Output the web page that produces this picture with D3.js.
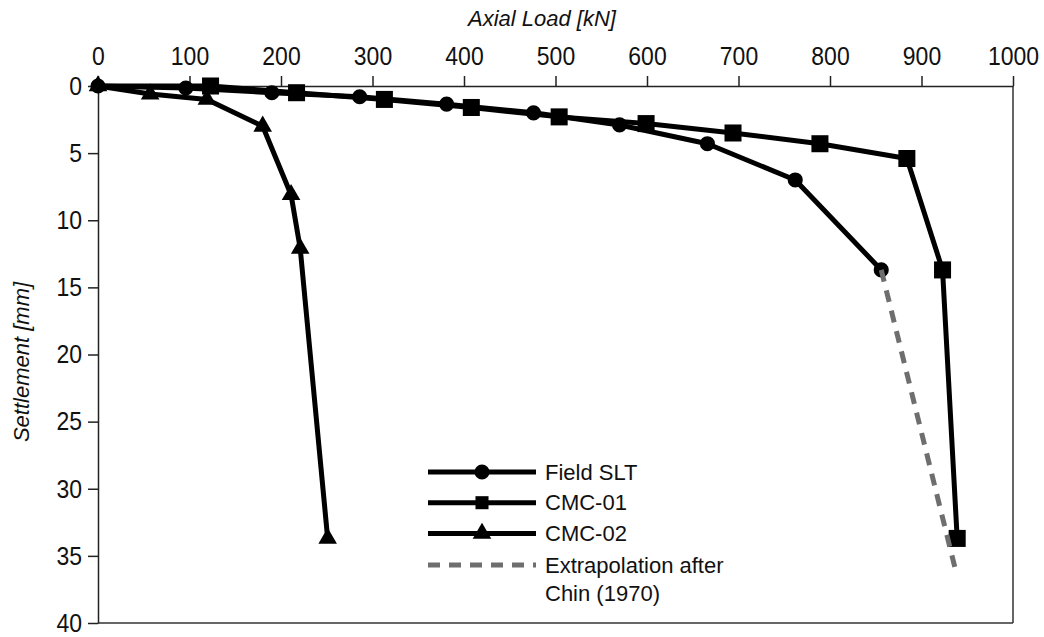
<!DOCTYPE html>
<html>
<head>
<meta charset="utf-8">
<script src="https://cdn.jsdelivr.net/npm/d3@7/dist/d3.min.js"></script>
<style>
  body { margin: 0; background: #fff; }
  text { font-family: "Liberation Sans", Arial, sans-serif; fill: #111; }
  .tall { transform-box: fill-box; transform-origin: center; transform: scaleY(1.12); }
</style>
</head>
<body>
<div id="container"></div>
<script>
// values
const xTicks = [0, 100, 200, 300, 400, 500, 600, 700, 800, 900, 1000];
const yTicks = [0, 5, 10, 15, 20, 25, 30, 35, 40];

const fieldLoad = [0, 96, 190, 286, 381, 476, 570, 666, 762, 856];
const fieldSettle = [0, 0.15, 0.5, 0.8, 1.35, 2.0, 2.9, 4.3, 7.0, 13.7];

const cmc01Load = [0, 123, 217, 313, 408, 504, 599, 694, 789, 884, 923, 939];
const cmc01Settle = [0, 0, 0.5, 1.0, 1.6, 2.3, 2.8, 3.5, 4.3, 5.4, 13.7, 33.7];

const cmc02Load = [0, 57, 119, 180, 211, 221, 251];
const cmc02Settle = [0, 0.6, 1.0, 3.0, 8.1, 12.1, 33.7];

const extrapLoad = [856, 937];
const extrapSettle = [13.7, 36.0];

const legendLabels = ["Field SLT", "CMC-01", "CMC-02", "Extrapolation after", "Chin (1970)"];

const W = 1044, H = 637;
const margin = { top: 86, left: 98, right: 31, bottom: 14 };
const iw = W - margin.left - margin.right;
const ih = H - margin.top - margin.bottom;

const svg = d3.select("#container").append("svg")
  .attr("width", W)
  .attr("height", H);

const g = svg.append("g")
  .attr("transform", `translate(${margin.left},${margin.top})`);

const x = d3.scaleLinear().domain([0, 1000]).range([0, iw]);
const y = d3.scaleLinear().domain([0, 40]).range([0, ih]);

// frame: right and bottom
g.append("line")
  .attr("x1", iw).attr("x2", iw).attr("y1", 0).attr("y2", ih)
  .attr("stroke", "#333").attr("stroke-width", 1.5);
g.append("line")
  .attr("x1", 0).attr("x2", iw).attr("y1", ih).attr("y2", ih)
  .attr("stroke", "#333").attr("stroke-width", 1.5);

const xAxis = g.append("g")
  .call(d3.axisTop(x).tickValues(xTicks).tickFormat(d3.format("d"))
    .tickSize(10).tickSizeOuter(0).tickPadding(12));
const yAxis = g.append("g")
  .call(d3.axisLeft(y).tickValues(yTicks).tickFormat(d3.format("d"))
    .tickSize(10).tickSizeOuter(0).tickPadding(6));

[xAxis, yAxis].forEach(a => {
  a.select(".domain").attr("stroke", "#222").attr("stroke-width", 1.5);
  a.selectAll(".tick line").attr("stroke", "#222").attr("stroke-width", 1.5);
  a.selectAll(".tick text")
    .attr("class", "tall")
    .attr("font-size", 23)
    .attr("fill", "#111")
    .style("font-family", "'Liberation Sans', Arial, sans-serif");
});

// axis titles
svg.append("text")
  .attr("x", 542)
  .attr("y", 26)
  .attr("text-anchor", "middle")
  .attr("font-size", 22)
  .attr("font-style", "italic")
  .text("Axial Load [kN]");

svg.append("text")
  .attr("transform", "translate(29,362) rotate(-90)")
  .attr("text-anchor", "middle")
  .attr("font-size", 22)
  .attr("font-style", "italic")
  .text("Settlement [mm]");

const line = d3.line().x(d => x(d[0])).y(d => y(d[1]));

const series = [
  { load: cmc02Load, settle: cmc02Settle, symbol: d3.symbolTriangle, size: 150, markFrom: 0 },
  { load: cmc01Load, settle: cmc01Settle, symbol: d3.symbolSquare, size: 290, markFrom: 1 },
  { load: fieldLoad, settle: fieldSettle, symbol: d3.symbolCircle, size: 180, markFrom: 0 }
];

series.forEach(s => {
  const pts = s.load.map((v, i) => [v, s.settle[i]]);
  g.append("path")
    .datum(pts)
    .attr("fill", "none")
    .attr("stroke", "#000")
    .attr("stroke-width", 5)
    .attr("stroke-linejoin", "round")
    .attr("d", line);
  g.selectAll(null)
    .data(pts.slice(s.markFrom))
    .enter().append("path")
    .attr("transform", d => `translate(${x(d[0])},${y(d[1])})`)
    .attr("d", d3.symbol().type(s.symbol).size(s.size))
    .attr("fill", "#000");
});

// extrapolation (Chin 1970)
g.append("path")
  .datum(extrapLoad.map((v, i) => [v, extrapSettle[i]]))
  .attr("fill", "none")
  .attr("stroke", "#6e6e6e")
  .attr("stroke-width", 5)
  .attr("stroke-dasharray", "12,9")
  .attr("d", line);

// legend
const legend = svg.append("g").attr("transform", "translate(428,472)");
const rowGap = 30.7;
const legendSymbols = [d3.symbolCircle, d3.symbolSquare, d3.symbolTriangle];
const legendSizes = [180, 170, 150];

legendSymbols.forEach((sym, i) => {
  const row = legend.append("g").attr("transform", `translate(0,${i * rowGap})`);
  row.append("line")
    .attr("x1", 0).attr("x2", 108)
    .attr("stroke", "#000").attr("stroke-width", 5);
  row.append("path")
    .attr("transform", "translate(54,0)")
    .attr("d", d3.symbol().type(sym).size(legendSizes[i]))
    .attr("fill", "#000");
  row.append("text")
    .attr("x", 117).attr("dy", "0.35em")
    .attr("font-size", 22)
    .text(legendLabels[i]);
});

const extRow = legend.append("g").attr("transform", `translate(0,${3 * rowGap + 1})`);
extRow.append("line")
  .attr("x1", 0).attr("x2", 108)
  .attr("stroke", "#6e6e6e").attr("stroke-width", 5)
  .attr("stroke-dasharray", "12,9");
extRow.append("text")
  .attr("x", 117).attr("dy", "0.35em")
  .attr("font-size", 22)
  .text(legendLabels[3]);
extRow.append("text")
  .attr("x", 117).attr("y", 28).attr("dy", "0.35em")
  .attr("font-size", 22)
  .text(legendLabels[4]);
</script>
</body>
</html>
